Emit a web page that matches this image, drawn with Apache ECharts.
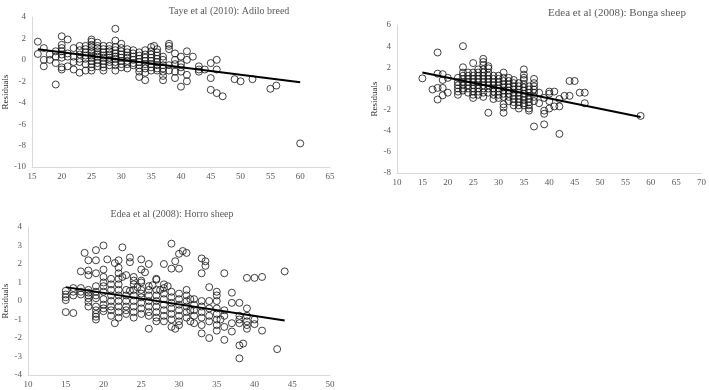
<!DOCTYPE html>
<html lang="en">
<head>
  <meta charset="utf-8">
  <script src="https://cdn.jsdelivr.net/npm/echarts@6/dist/echarts.min.js"></script>
  <style>
    html, body { margin: 0; padding: 0; background: #fff; }
  </style>
</head>
<body>
  <div id="residualCharts" style="width: 709px;height:390px;"></div>

  <script type="text/javascript">

    // Taye et al (2010): Adilo breed -- x values and the residuals read at each x
    var adiloX = [16, 17, 18, 19, 20, 21, 22, 23, 24, 25, 26, 27, 28, 29, 30, 31, 32, 33, 34, 35, 35.5, 36, 37, 38, 39, 40, 41, 42, 43, 44, 45, 46, 47, 49, 50, 52, 55, 56, 60];
    var adiloY = [
        [1.7, 0.55], [1.1, 0, -0.6], [0.5, 0], [0.8, 0.3, -0.3, -2.3],
        [2.2, 1.4, 1.1, 0.8, 0.5, 0.2, -0.7, -0.9], [1.9, 0.6, 0.3, -0.6],
        [1.1, 0.3, -0.2, -0.9], [1.3, 0.9, 0.5, 0.1, -0.2, -1.2],
        [1.3, 1.0, 0.7, 0.4, 0.1, -0.4, -1.0],
        [1.9, 1.7, 1.4, 1.2, 0.9, 0.7, 0.4, 0.2, -0.1, -0.4, -0.7, -1.0],
        [1.6, 1.3, 1.1, 0.8, 0.5, 0.3, 0, -0.3, -0.6],
        [1.3, 1.0, 0.7, 0.4, 0.2, -0.1, -0.4, -0.7, -1.0],
        [1.3, 1.0, 0.8, 0.5, 0.2, 0, -0.2, -0.5],
        [2.9, 1.8, 1.2, 0.9, 0.6, 0.3, 0.1, -0.2, -0.5, -1.0],
        [1.5, 1.1, 0.8, 0.5, 0.2, -0.1, -0.4, -0.7],
        [1.0, 0.7, 0.4, 0.2, -0.1, -0.4, -0.8],
        [0.9, 0.6, 0.3, 0, -0.3, -0.5],
        [0.7, 0.4, 0.1, -0.2, -0.5, -0.8, -1.1, -1.6],
        [0.9, 0.5, 0.2, -0.1, -0.4, -0.8, -1.2, -1.9],
        [1.2, 0.8, 0.5, 0.2, -0.1, -0.4, -0.7, -1.0], [1.3],
        [1.0, 0.7, 0.4, 0.1, -0.2, -0.5, -0.8, -1.0],
        [0.3, 0, -0.5, -0.8, -1.1, -1.5, -1.9],
        [1.5, 1.3, 1.0, -0.5, -1.0], [0.6, 0, -0.4, -1.1, -1.7],
        [0.3, -0.4, -0.7, -1.1, -2.5], [0.8, 0, -1.4, -2.0], [0.3],
        [-0.6, -0.9, -1.1], [-0.9], [-0.3, -1.7, -2.8], [0, -0.9, -3.1], [-3.4],
        [-1.8], [-2.0], [-1.8], [-2.7], [-2.4], [-7.8]
    ];
    var adiloTrend = [[16, 1.0], [60, -2.1]];

    // Edea et al (2008): Bonga sheep
    var bongaX = [15, 17, 18, 19, 20, 22, 23, 24, 25, 26, 27, 28, 29, 30, 31, 32, 33, 34, 35, 36, 37, 38, 39, 40, 41, 42, 43, 44, 45, 46, 47, 58];
    var bongaY = [
        [0.95], [-0.1], [3.4, 1.4, 0.05, -1.05], [1.35, 0.8, 0.05, -0.65], [1.0, -0.4],
        [1.0, 0.6, 0.3, 0, -0.3, -0.6],
        [4.0, 2.0, 1.5, 1.2, 0.9, 0.6, 0.3, 0, -0.2],
        [1.5, 1.2, 0.9, 0.6, 0.3, 0, -0.4],
        [2.4, 1.5, 1.2, 0.9, 0.6, 0.3, 0, -0.3, -0.6, -0.9],
        [1.8, 1.5, 1.2, 0.9, 0.6, 0.3, 0, -0.3, -0.6],
        [2.8, 2.5, 2.2, 1.8, 1.5, 1.2, 0.9, 0.6, 0.3, 0, -0.4, -0.8],
        [2.1, 1.9, 1.5, 1.2, 0.9, 0.6, 0.3, 0, -0.4, -2.3],
        [1.2, 0.9, 0.6, 0.3, 0, -0.3, -0.6, -1.0],
        [1.2, 0.9, 0.6, 0.3, 0, -0.3, -0.6, -0.9],
        [1.5, 1.0, 0.7, 0.4, 0.1, -0.2, -0.5, -0.8, -1.5, -1.8, -2.3],
        [1.0, 0.7, 0.4, 0.1, -0.2, -0.5, -0.8, -1.2],
        [0.8, 0.5, 0.2, -0.1, -0.4, -0.7, -1.0, -1.3, -1.6],
        [0.5, 0.2, -0.1, -0.4, -0.7, -1.0, -1.3, -1.6, -1.9],
        [1.8, 1.3, 1.0, 0.8, 0.4, 0.1, -0.2, -0.5, -0.8, -1.1, -1.4, -1.6],
        [0.2, -0.1, -0.4, -0.7, -1.0, -1.3, -1.6, -1.9, -2.1],
        [0.9, 0.5, 0.2, -0.1, -0.4, -0.8, -1.2, -3.6],
        [-0.4, -1.4], [-0.9, -2.1, -2.4, -3.4], [-0.3, -0.5, -1.2, -1.9], [-0.3, -1.7],
        [-1.0, -1.7, -4.3], [-0.7], [0.7, -0.7], [0.7], [-0.4], [-0.4, -1.4], [-2.6]
    ];
    var bongaTrend = [[15, 1.5], [58, -2.7]];

    // Edea et al (2008): Horro sheep
    var horroX = [15, 16, 17, 17.5, 18, 19, 20, 20.5, 21, 21.5, 22, 22.5, 23, 23.5, 24, 24.5, 25, 25.5, 26, 26.5, 27, 27.5, 28, 28.5, 29, 29.5, 30, 30.5, 31, 31.5, 32, 33, 33.5, 34, 35, 35.5, 36, 37, 38, 38.5, 39, 40, 41, 43, 44];
    var horroY = [
        [0.55, 0.35, 0.2, 0.05, -0.6], [0.7, 0.5, 0.3, -0.65], [1.6, 0.7, 0.5, 0.35], [2.6],
        [2.2, 1.65, 1.4, 0.6, 0.45, 0.3, 0.15, -0.05, -0.3],
        [2.75, 2.2, 1.5, 0.8, 0.5, 0.3, 0.15, -0.3, -0.5, -0.7, -0.85, -1.0],
        [3.0, 1.7, 1.3, 1.0, 0.8, 0.5, 0.1, -0.2, -0.4, -0.55], [2.25],
        [1.2, 0.9, 0.6, 0.3, 0, -0.3, -0.5, -0.8], [2.05, -1.2],
        [2.2, 1.8, 1.5, 1.2, 0.9, 0.6, 0.3, 0, -0.3, -0.6, -0.9], [2.9, 1.3],
        [1.4, 0.6, 0.3, 0, -0.3, -0.5, -0.7], [2.35, 2.1, 0.55],
        [1.3, 1.1, 0.9, 0.6, 0.3, 0, -0.3, -0.6, -0.9], [0.75],
        [2.25, 1.7, 1.1, 1.0, 0.6, 0.4, 0.2, -0.1, -0.4, -0.7], [1.55],
        [2.0, 0.8, 0.6, 0.3, 0, -0.3, -0.6, -0.8, -1.5], [0.85],
        [1.2, 1.15, 0.6, 0.3, 0, -0.3, -0.6, -0.9, -1.1], [0.6],
        [2.0, 0.9, 0.7, 0.4, 0.1, -0.2, -0.5, -0.8, -1.1], [0.8],
        [3.1, 1.75, 0.5, 0.2, -0.1, -0.4, -0.7, -1.0, -1.4], [2.15, -1.5],
        [2.55, 1.75, 0.4, 0.1, -0.2, -0.5, -0.8, -1.1, -1.3], [2.7],
        [2.6, 0.6, 0.3, 0, -0.3, -0.6, -0.9], [0.1, -0.5, -1.1],
        [0.1, -0.2, -0.5, -0.8, -1.2],
        [2.3, 1.5, 0, -0.3, -0.6, -0.9, -1.3, -1.75], [2.15, 1.9],
        [0.75, 0, -0.4, -0.8, -1.1, -2.0],
        [0.5, 0.3, 0, -0.4, -0.7, -1.0, -1.3, -1.6], [-1.0],
        [1.5, -0.5, -0.8, -1.4, -2.1], [0.45, -0.1, -1.2, -1.65],
        [-0.1, -0.8, -1.0, -1.2, -2.4, -3.1], [-2.3],
        [1.25, -0.4, -0.8, -1.1, -1.3, -1.5], [1.25, -1.0, -1.25], [1.3, -1.6], [-2.6], [1.6]
    ];
    var horroTrend = [[15, 0.75], [44, -1.05]];

    function toPoints(xs, ys) {
        var pts = [];
        xs.forEach(function (x, i) {
            ys[i].forEach(function (y) { pts.push([x, y]); });
        });
        return pts;
    }

    var serif = '"Liberation Serif", "DejaVu Serif", serif';
    var labelStyle = { color: '#595959', fontFamily: serif, fontSize: 9 };

    function xAxisFor(gridIndex, min, max) {
        return {
            gridIndex: gridIndex, type: 'value', min: min, max: max, interval: 5,
            axisLine: { onZero: false, lineStyle: { color: '#d9d9d9' } },
            axisTick: { show: false },
            splitLine: { show: false },
            axisLabel: Object.assign({ margin: 5 }, labelStyle)
        };
    }

    function yAxisFor(gridIndex, min, max, interval) {
        return {
            gridIndex: gridIndex, type: 'value', min: min, max: max, interval: interval,
            name: 'Residuals', nameLocation: 'middle', nameRotate: 90, nameGap: 18,
            nameTextStyle: { color: '#262626', fontFamily: serif, fontSize: 9 },
            axisLine: { show: true, onZero: false, lineStyle: { color: '#d9d9d9' } },
            axisTick: { show: false },
            splitLine: { show: false },
            axisLabel: Object.assign({ margin: 6 }, labelStyle)
        };
    }

    function scatterFor(idx, pts) {
        return {
            type: 'scatter', xAxisIndex: idx, yAxisIndex: idx, data: pts,
            symbol: 'circle', symbolSize: 7,
            itemStyle: { color: 'rgba(255,255,255,0)', borderColor: '#111', borderWidth: 1 }
        };
    }

    function trendFor(idx, pts) {
        return {
            type: 'line', xAxisIndex: idx, yAxisIndex: idx, data: pts,
            showSymbol: false, lineStyle: { color: '#000', width: 2 }, z: 3
        };
    }

    function createResidualCharts() {
        const chart = echarts.init(document.getElementById('residualCharts'));
        var titleStyle = { color: '#595959', fontFamily: serif, fontSize: 10, fontWeight: 'normal' };

        let option = {
            animation: false,
            title: [
                { text: 'Taye et al (2010): Adilo breed', left: 224, top: 1, textAlign: 'center', textStyle: titleStyle },
                { text: 'Edea et al (2008): Bonga sheep', left: 612, top: 3, textAlign: 'center', textStyle: Object.assign({}, titleStyle, { fontSize: 11 }) },
                { text: 'Edea et al (2008): Horro sheep', left: 167, top: 204, textAlign: 'center', textStyle: titleStyle }
            ],
            grid: [
                { left: 29, top: 17, width: 301, height: 150 },
                { left: 397, top: 25, width: 305, height: 148 },
                { left: 28, top: 227, width: 302, height: 148 }
            ],
            xAxis: [xAxisFor(0, 15, 65), xAxisFor(1, 10, 70), xAxisFor(2, 10, 50)],
            yAxis: [yAxisFor(0, -10, 4, 2), yAxisFor(1, -8, 6, 2), yAxisFor(2, -4, 4, 1)],
            series: [
                scatterFor(0, toPoints(adiloX, adiloY)), trendFor(0, adiloTrend),
                scatterFor(1, toPoints(bongaX, bongaY)), trendFor(1, bongaTrend),
                scatterFor(2, toPoints(horroX, horroY)), trendFor(2, horroTrend)
            ]
        };

        chart.setOption(option);
    }
    createResidualCharts();
  </script>
</body>
</html>
